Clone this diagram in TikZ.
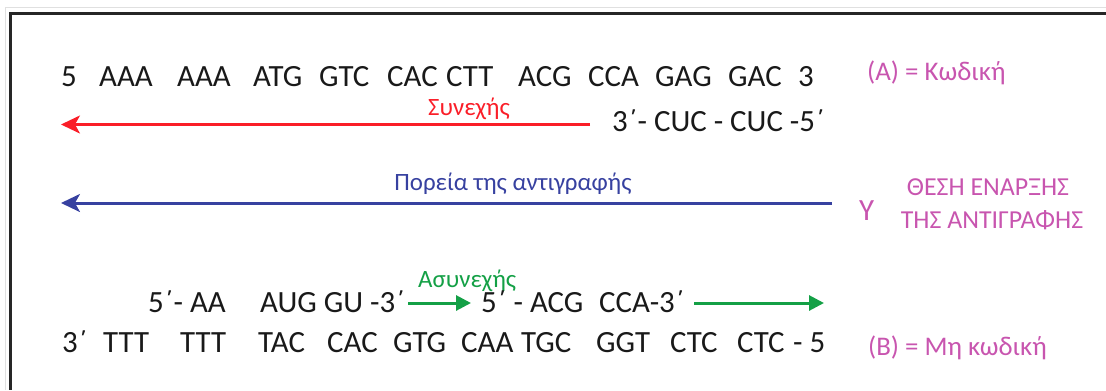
\documentclass[tikz,border=0pt]{standalone}
\usepackage{fontspec}
\setmainfont{Carlito}
\usetikzlibrary{arrows.meta}
\definecolor{txt}{RGB}{25,25,25}
\definecolor{myred}{RGB}{250,30,40}
\definecolor{myblue}{RGB}{55,65,160}
\definecolor{mygreen}{RGB}{20,160,70}
\definecolor{mymag}{RGB}{200,85,175}
\tikzset{
  seq/.style={font=\fontsize{31}{32}\selectfont, inner sep=0pt, anchor=base west, text=txt},
  lab/.style={font=\fontsize{27}{29}\selectfont, inner sep=0pt, text=mymag},
  small/.style={font=\fontsize{25}{27}\selectfont, inner sep=0pt, anchor=base},
  larr/.style={-{Stealth[length=19pt,width=18pt,inset=5pt]}},
  garr/.style={line width=3pt, -{Triangle[length=15pt,width=15pt]}},
}
\begin{document}
\begin{tikzpicture}[x=1bp,y=-1bp]
\useasboundingbox (0,0) rectangle (1106,390);
% frame
\draw[black!12, line width=1pt] (5,390) -- (5,7) -- (1106,7);
\draw[black!85, line width=4pt] (9,13.5) -- (1106,13.5);
\draw[black!85, line width=3pt] (10.5,12) -- (10.5,390);
% top row (coding strand)
\node[seq] (a1) at (61,86) {5};
\node[seq] (a2) at (99,86) {AAA};
\node[seq] (a3) at (177,86) {AAA};
\node[seq] (a4) at (253,86) {ATG};
\node[seq] (a5) at (319,86) {GTC};
\node[seq] (a6) at (387,86) {CAC};
\node[seq] (a7) at (446,86) {CTT};
\node[seq] (a8) at (518,86) {ACG};
\node[seq] (a9) at (588,86) {CCA};
\node[seq] (a10) at (655,86) {GAG};
\node[seq] (a11) at (728,86) {GAC};
\node[seq] (a12) at (798,86) {3};
\node[lab, anchor=base west] (A) at (867,80) {(A) = Κωδική};
% leading strand
\node[seq] (lead) at (612,131) {3΄- CUC - CUC -5΄};
\coordinate (rs) at (590,124.5);
\coordinate (re) at (61,124.5);
\draw[larr, myred, line width=2.6pt] (rs) -- (re);
\node[small, text=myred] (syn) at (469,115) {Συνεχής};
% direction of replication
\coordinate (bs) at (832,203);
\coordinate (be) at (61,203);
\draw[larr, myblue, line width=3pt] (bs) -- (be);
\node[small, text=myblue] (por) at (513,190) {Πορεία της αντιγραφής};
\node[lab, anchor=base west, font=\fontsize{31}{32}\selectfont] (Y) at (859,220) {Y};
\node[small, text=mymag, font=\fontsize{26}{28}\selectfont] (th1) at (988,195) {ΘΕΣΗ ΕΝΑΡΞΗΣ};
\node[small, text=mymag, font=\fontsize{26}{28}\selectfont] (th2) at (992,228) {ΤΗΣ ΑΝΤΙΓΡΑΦΗΣ};
% lagging strand
\node[seq] (g1) at (148,312) {5΄- AA};
\node[seq] (g2) at (260,312) {AUG GU -3΄};
\coordinate (g1s) at (408,303);
\coordinate (g1e) at (471,303);
\draw[garr, mygreen] (g1s) -- (g1e);
\node[small, text=mygreen, anchor=base west] (asyn) at (418,287) {Ασυνεχής};
\node[seq] (g3) at (481,312) {5΄ - ACG};
\node[seq] (g4) at (599,312) {CCA-3΄};
\coordinate (g2s) at (694,303);
\coordinate (g2e) at (824,303);
\draw[garr, mygreen] (g2s) -- (g2e);
% bottom row (template strand)
\node[seq] (b1) at (62,352) {3΄};
\node[seq] (b2) at (103,352) {TTT};
\node[seq] (b3) at (180,352) {TTT};
\node[seq] (b4) at (258,352) {TAC};
\node[seq] (b5) at (327,352) {CAC};
\node[seq] (b6) at (393,352) {GTG};
\node[seq] (b7) at (461,352) {CAA};
\node[seq] (b8) at (521,352) {TGC};
\node[seq] (b9) at (596,352) {GGT};
\node[seq] (b10) at (670,352) {CTC};
\node[seq] (b11) at (737,352) {CTC};
\node[seq] (b12) at (793,352) {- 5};
\node[lab, anchor=base west] (B) at (868,355) {(B) = Μη κωδική};
\end{tikzpicture}
\end{document}
